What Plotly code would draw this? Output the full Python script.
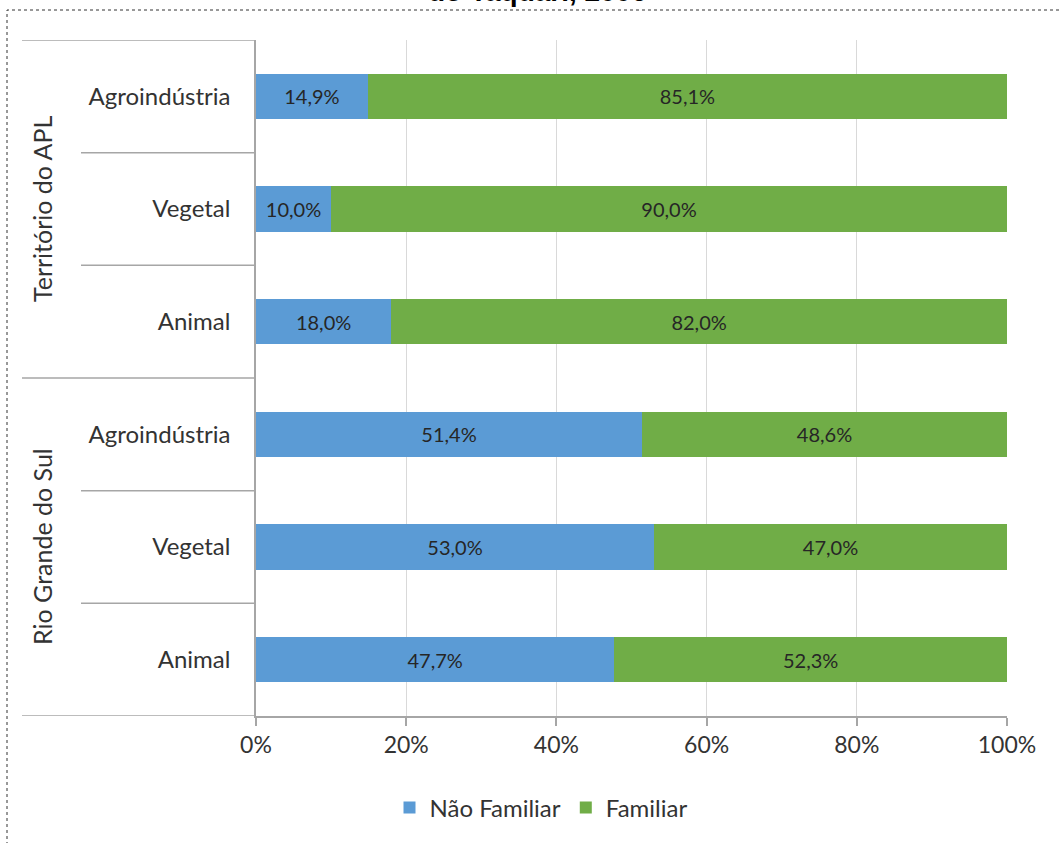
import plotly.graph_objects as go

categories = ["Animal", "Vegetal", "Agroindústria", "Animal", "Vegetal", "Agroindústria"]
groups = ["Rio Grande do Sul", "Território do APL"]
nao_familiar = [47.7, 53.0, 51.4, 18.0, 10.0, 14.9]
familiar = [52.3, 47.0, 48.6, 82.0, 90.0, 85.1]
x_ticks = [0, 20, 40, 60, 80, 100]
x_tick_labels = ["0%", "20%", "40%", "60%", "80%", "100%"]
title_text = "do Taquari, 2006"

W, H = 1059, 843
L, R, T, B = 256, 1007, 40, 716
pw, ph = R - L, B - T

def px(x):
    return (x - L) / pw

def py(y):
    return (B - y) / ph

ypos = list(range(len(categories)))
FONT = "Lato"
TXT = "#333333"
GRAY = "#A6A6A6"

fig = go.Figure()
fig.add_trace(go.Bar(
    y=ypos, x=nao_familiar, orientation="h", name="Não Familiar",
    marker=dict(color="#5B9BD5", line=dict(width=0)), width=0.4,
    texttemplate="%{x:.1f}%", textposition="inside", insidetextanchor="middle",
    textangle=0, constraintext="none",
    textfont=dict(family=FONT, size=20, color="#262626"),
))
fig.add_trace(go.Bar(
    y=ypos, x=familiar, orientation="h", name="Familiar",
    marker=dict(color="#70AD47", line=dict(width=0)), width=0.4,
    texttemplate="%{x:.1f}%", textposition="inside", insidetextanchor="middle",
    textangle=0, constraintext="none",
    textfont=dict(family=FONT, size=20, color="#262626"),
))

shapes = []
for yv in [-0.5, 2.5, 5.5]:
    shapes.append(dict(type="line", xref="paper", yref="y", x0=px(22), x1=0, y0=yv, y1=yv,
                       line=dict(color=GRAY, width=1.5)))
for yv in [0.5, 1.5, 3.5, 4.5]:
    shapes.append(dict(type="line", xref="paper", yref="y", x0=px(81), x1=0, y0=yv, y1=yv,
                       line=dict(color=GRAY, width=1.5)))
shapes.append(dict(type="rect", xref="paper", yref="paper",
                   x0=px(7), x1=px(1070), y0=py(850), y1=py(10),
                   line=dict(color="#333333", width=1, dash="dot"), fillcolor="rgba(0,0,0,0)"))

annotations = [
    dict(text=groups[1], xref="paper", yref="y", x=px(42), y=4, textangle=-90,
         xanchor="center", yanchor="middle",
         showarrow=False, font=dict(family=FONT, size=25, color=TXT)),
    dict(text=groups[0], xref="paper", yref="y", x=px(42), y=1, textangle=-90,
         xanchor="center", yanchor="middle",
         showarrow=False, font=dict(family=FONT, size=25, color=TXT)),
    dict(text="<b>" + title_text + "</b>", xref="paper", yref="paper", x=px(537), y=py(9),
         xanchor="center", yanchor="bottom", showarrow=False,
         font=dict(family="Liberation Sans", size=28, color="#000000")),
]

fig.update_layout(
    width=W, height=H,
    margin=dict(l=L, r=W - R, t=T, b=H - B, autoexpand=False),
    barmode="stack",
    separators=",.",
    plot_bgcolor="white", paper_bgcolor="white",
    showlegend=True,
    legend=dict(orientation="h", x=px(541), xanchor="center", y=py(808), yanchor="middle",
                font=dict(family=FONT, size=24, color=TXT), traceorder="normal"),
    shapes=shapes,
    annotations=annotations,
    xaxis=dict(range=[0, 100], tickvals=x_ticks, ticktext=x_tick_labels,
               showgrid=True, gridcolor="#D9D9D9", gridwidth=1,
               showline=True, linecolor=GRAY, linewidth=1.5,
               ticks="outside", ticklen=8, tickcolor=GRAY, tickwidth=1.5,
               zeroline=False, tickfont=dict(family=FONT, size=23, color=TXT)),
    yaxis=dict(range=[-0.5, 5.5], tickvals=ypos, ticktext=categories,
               showgrid=False, zeroline=False, showline=True, linecolor=GRAY, linewidth=1.5,
               ticks="", ticklabelstandoff=19,
               tickfont=dict(family=FONT, size=24, color=TXT)),
)

fig.write_html("out.html", config={"displayModeBar": False},
               post_script="document.body.style.margin='0px';document.body.style.overflow='hidden';")
